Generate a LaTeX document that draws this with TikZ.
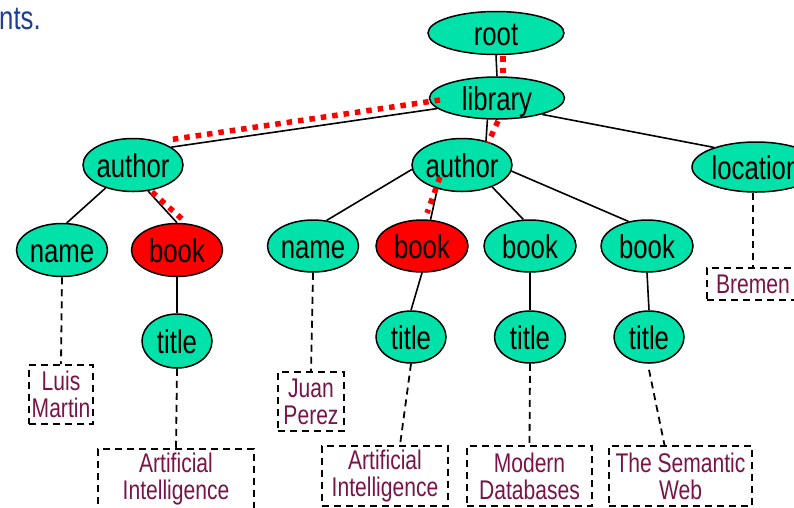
\documentclass[tikz,border=0pt]{standalone}
\usepackage{fontspec}
\setmainfont{Liberation Sans}[FakeStretch=0.78]
\usetikzlibrary{shapes.geometric}
\definecolor{nodegreen}{RGB}{0,226,170}
\definecolor{leafred}{RGB}{122,20,72}
\definecolor{slideblue}{RGB}{31,60,150}
\newcommand{\elemtxt}[1]{\smash{\raisebox{-0.39em}{\makebox[0pt]{#1}}}}
\tikzset{
  elem/.style={ellipse, draw=black, line width=1.5pt, fill=nodegreen, inner sep=0pt,
    font=\fontsize{33pt}{33pt}\selectfont},
  hlelem/.style={elem, fill=red},
  leaf/.style={rectangle, draw=black, line width=1.8pt, dash pattern=on 7pt off 5pt,
    text=leafred, align=center, inner sep=0pt, font=\fontsize{27pt}{27pt}\selectfont},
  treeedge/.style={line width=1.6pt},
  valedge/.style={line width=1.8pt, dash pattern=on 7pt off 5pt},
  redpath/.style={red, line width=5.5pt, dash pattern=on 5.5pt off 6pt}
}
\begin{document}
\begin{tikzpicture}[x=1pt,y=-1pt]
\useasboundingbox (0,0) rectangle (794,507);
\clip (0,0) rectangle (794,507);
\fill[white] (0,0) rectangle (794,507);

\node[anchor=base west, inner sep=0pt, text=slideblue, font=\fontsize{33pt}{33pt}\selectfont] (slidetext) at (-1,29) {nts.};

% element nodes
\node[elem, minimum width=136pt, minimum height=43pt] (root) at (496,33) {\elemtxt{root}};
\node[elem, minimum width=135pt, minimum height=42pt] (library) at (497,98) {\elemtxt{library}};
\node[elem, minimum width=100pt, minimum height=53pt] (authL) at (133,165) {\elemtxt{author}};
\node[elem, minimum width=100pt, minimum height=53pt] (authM) at (462,165) {\elemtxt{author}};
\node[elem, minimum width=128pt, minimum height=50pt] (loc) at (756,167) {\elemtxt{location}};
\node[elem, minimum width=91pt, minimum height=53pt] (nameL) at (62,250) {\elemtxt{name}};
\node[hlelem, minimum width=91pt, minimum height=53pt] (bookL) at (177,250) {\elemtxt{book}};
\node[elem, minimum width=91pt, minimum height=52pt] (nameM) at (313,246) {\elemtxt{name}};
\node[hlelem, minimum width=92pt, minimum height=52pt] (bookM) at (422,246) {\elemtxt{book}};
\node[elem, minimum width=92pt, minimum height=52pt] (book3) at (530,246) {\elemtxt{book}};
\node[elem, minimum width=92pt, minimum height=52pt] (book4) at (647,246) {\elemtxt{book}};
\node[elem, minimum width=70pt, minimum height=54pt] (titleL) at (177,341) {\elemtxt{title}};
\node[elem, minimum width=70pt, minimum height=52pt] (titleM) at (411,337) {\elemtxt{title}};
\node[elem, minimum width=71pt, minimum height=52pt] (title3) at (530,337) {\elemtxt{title}};
\node[elem, minimum width=70pt, minimum height=52pt] (title4) at (649,337) {\elemtxt{title}};

% value boxes
\node[leaf, minimum width=64pt, minimum height=59pt] (lm) at (61,394.5) {Luis\\Martin};
\node[leaf, minimum width=156pt, minimum height=60pt] (ail) at (176,479) {Artificial\\Intelligence};
\node[leaf, minimum width=66pt, minimum height=59pt] (jp) at (311,401.5) {Juan\\Perez};
\node[leaf, minimum width=126pt, minimum height=60pt] (aim) at (385,476) {Artificial\\Intelligence};
\node[leaf, minimum width=125pt, minimum height=60pt] (md) at (529.5,476) {Modern\\Databases};
\node[leaf, minimum width=143pt, minimum height=60pt] (sw) at (680.5,476) {The Semantic\\Web};
\node[leaf, minimum width=92pt, minimum height=32pt] (brem) at (753,284) {Bremen};

% tree edges
\draw[treeedge] (root.south) -- (library.north);
\draw[treeedge] (library.190) -- (authL.25);
\draw[treeedge] (library.-114) -- (authM.45);
\draw[treeedge] (library.-20) -- (loc.155);
\draw[treeedge] (authL.-140) -- (nameL.80);
\draw[treeedge] (authL.-60) -- (bookL.north);
\draw[treeedge] (authM.185) -- (nameM.62);
\draw[treeedge] (authM.-136) -- (bookM.72);
\draw[treeedge] (authM.-36) -- (book3.104);
\draw[treeedge] (authM.-7) -- (book4.127);
\draw[treeedge] (bookL.south) -- (titleL.north);
\draw[treeedge] (bookM.south) -- (titleM.north);
\draw[treeedge] (book3.south) -- (title3.north);
\draw[treeedge] (book4.south) -- (title4.north);

% value edges
\draw[valedge] (nameL.south) -- (lm.north);
\draw[valedge] (titleL.south) -- (ail.north);
\draw[valedge] (nameM.south) -- (jp.north);
\draw[valedge] (titleM.south) -- ([xshift=15pt]aim.north);
\draw[valedge] (title3.south) -- (md.north);
\draw[valedge] ([yshift=-6pt]title4.south) -- ([xshift=-16pt]sw.north);
\draw[valedge] (loc.south -| brem.north) -- (brem.north);

% highlighted path
\draw[redpath] ([shift={(7,23)}]root.center) -- ([shift={(6,-22)}]library.center);
\draw[redpath] ([shift={(-57,2)}]library.center) -- ([shift={(35,-25)}]authL.center);
\draw[redpath] ([shift={(1,23)}]library.center) -- ([shift={(26,-22)}]authM.center);
\draw[redpath] ([shift={(19,27)}]authL.center) -- ([shift={(5,-31)}]bookL.center);
\draw[redpath] ([shift={(-22,12)}]authM.center) -- ([shift={(5,-33)}]bookM.center);
\end{tikzpicture}
\end{document}
